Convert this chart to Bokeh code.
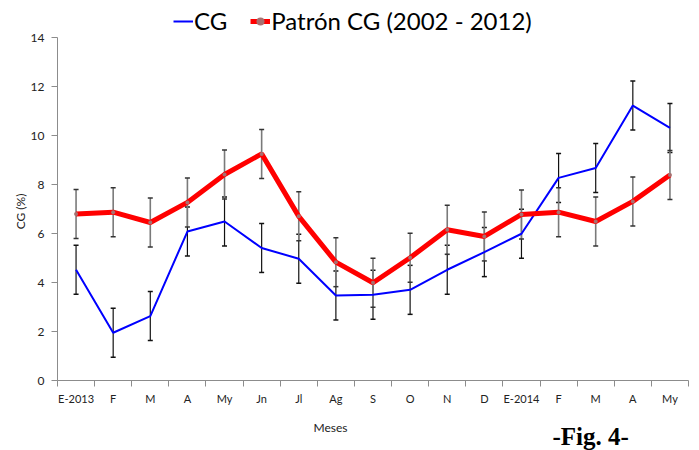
import math
from bokeh.plotting import figure
from bokeh.models import (ColumnDataSource, Whisker, TeeHead, FixedTicker, Legend,
                          LegendItem, Label, Range1d)
from bokeh.embed import file_html
from bokeh.resources import INLINE

meses = ["E-2013", "F", "M", "A", "My", "Jn", "Jl", "Ag", "S", "O", "N", "D",
         "E-2014", "F", "M", "A", "My"]
cg = [4.52, 1.95, 2.63, 6.08, 6.49, 5.41, 4.97, 3.47, 3.50, 3.70, 4.52, 5.24,
      5.99, 8.27, 8.67, 11.22, 10.31]
cg_err = [1.0, 1.0, 1.0, 1.0, 1.0, 1.0, 1.0, 1.0, 1.0, 1.0, 1.0, 1.0,
          1.0, 1.0, 1.0, 1.0, 1.0]
patron = [6.80, 6.87, 6.45, 7.27, 8.41, 9.25, 6.70, 4.83, 3.99, 5.01, 6.15, 5.88,
          6.78, 6.87, 6.49, 7.31, 8.39]
patron_err = [1.0, 1.0, 1.0, 1.0, 1.0, 1.0, 1.0, 1.0, 1.0, 1.0, 1.0, 1.0,
              1.0, 1.0, 1.0, 1.0, 1.0]
y_ticks = [0, 2, 4, 6, 8, 10, 12, 14]

n = len(meses)
xs = [i + 0.5 for i in range(n)]
src = ColumnDataSource(dict(
    x=xs, cg=cg, patron=patron,
    cg_lo=[v - e for v, e in zip(cg, cg_err)],
    cg_hi=[v + e for v, e in zip(cg, cg_err)],
    p_lo=[v - e for v, e in zip(patron, patron_err)],
    p_hi=[v + e for v, e in zip(patron, patron_err)],
))

FONT = "Lato"
W, H = 699, 450
X0, X1 = 57.0, 688.0     # screen px of x = 0 and x = n
Y0, Y14 = 380.0, 37.0    # screen px of y = 0 and y = 14
sx = (X1 - X0) / n
sy = (Y0 - Y14) / 14.0

p = figure(width=W, height=H, output_backend="svg", toolbar_location=None,
           x_range=Range1d(-X0 / sx, (W - X0) / sx),
           y_range=Range1d(-(H - Y0) / sy, Y0 / sy),
           min_border=0, min_border_left=0, min_border_right=0,
           min_border_top=0, min_border_bottom=0)
p.outline_line_color = None
p.xgrid.grid_line_color = None
p.ygrid.grid_line_color = None

# y axis
ya = p.yaxis[0]
ya.fixed_location = 0
ya.ticker = FixedTicker(ticks=y_ticks)
ya.bounds = (0, 14)
ya.axis_line_color = "#8c8c8c"
ya.major_tick_line_color = "#8c8c8c"
ya.major_tick_out = 6
ya.major_tick_in = 0
ya.minor_tick_line_color = None
ya.major_label_text_font = FONT
ya.major_label_text_font_size = "12px"
ya.major_label_text_color = "#222222"
ya.major_label_standoff = 7

# x axis
xa = p.xaxis[0]
xa.fixed_location = 0
xa.bounds = (0, n)
xa.ticker = FixedTicker(ticks=xs, minor_ticks=list(range(n + 1)))
xa.major_label_overrides = {x: m for x, m in zip(xs, meses)}
xa.axis_line_color = "#8c8c8c"
xa.major_tick_line_color = None
xa.major_tick_out = 0
xa.major_tick_in = 0
xa.minor_tick_line_color = "#8c8c8c"
xa.minor_tick_out = 6
xa.minor_tick_in = 0
xa.major_label_text_font = FONT
xa.major_label_text_font_size = "11px"
xa.major_label_text_color = "#222222"
xa.major_label_standoff = 5

# series
bl = p.line("x", "cg", source=src, line_color="#0000ff", line_width=2)
rl = p.line("x", "patron", source=src, line_color="#ff0000", line_width=5)
rs = p.scatter("x", "patron", source=src, size=4, fill_color="#a87070",
               line_color=None)

wb = Whisker(source=src, base="x", lower="cg_lo", upper="cg_hi",
             line_color="#111111", line_width=1.2,
             upper_head=TeeHead(size=5, line_color="#111111", line_width=1.5),
             lower_head=TeeHead(size=5, line_color="#111111", line_width=1.5))
wr = Whisker(source=src, base="x", lower="p_lo", upper="p_hi",
             line_color="#7a7a7a", line_width=1.6,
             upper_head=TeeHead(size=5, line_color="#333333", line_width=1.5),
             lower_head=TeeHead(size=5, line_color="#333333", line_width=1.5))
p.add_layout(wb)
p.add_layout(wr)

legend = Legend(items=[LegendItem(label="CG", renderers=[bl]),
                       LegendItem(label="Patrón CG (2002 - 2012)", renderers=[rl, rs])],
                orientation="horizontal", location=(173, 415),
                label_text_font=FONT, label_text_font_size="24px",
                label_text_color="#000000",
                glyph_width=20, glyph_height=20, label_standoff=1, spacing=23,
                padding=0, margin=0, border_line_color=None,
                background_fill_alpha=0)
p.add_layout(legend)

# axis titles and figure tag
p.add_layout(Label(x=(20 - X0) / sx, y=(Y0 - 211) / sy, text="CG (%)",
                   angle=math.pi / 2, text_align="center", text_baseline="middle",
                   text_font=FONT, text_font_size="12px", text_color="#222222"))
p.add_layout(Label(x=(330 - X0) / sx, y=(Y0 - 427) / sy, text="Meses",
                   text_align="center", text_baseline="middle",
                   text_font=FONT, text_font_size="12px", text_color="#222222"))
p.add_layout(Label(x=(552 - X0) / sx, y=(Y0 - 436) / sy, text="-Fig. 4-",
                   text_font="Liberation Serif", text_font_style="bold",
                   text_font_size="25px", text_color="#000000",
                   text_align="left", text_baseline="middle"))

open("out.html", "w").write(file_html(p, INLINE))
